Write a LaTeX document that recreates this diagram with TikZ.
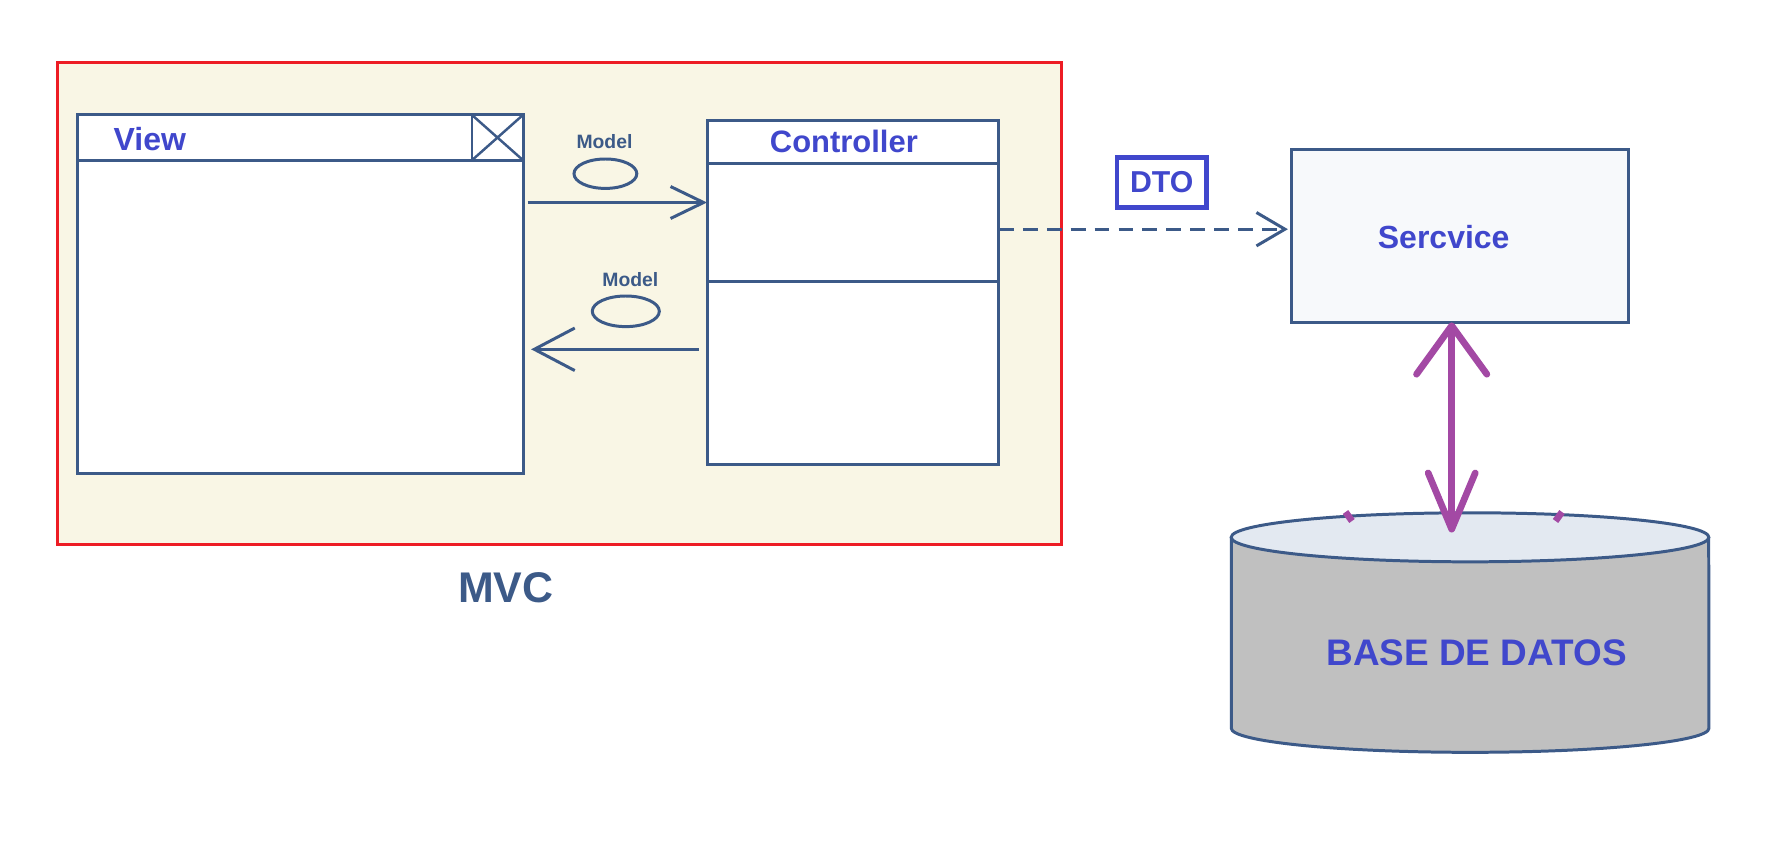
\documentclass[tikz,border=0pt]{standalone}
\usepackage{fontspec}
\setmainfont{Liberation Sans}
\usetikzlibrary{arrows.meta}
\definecolor{slate}{HTML}{3C5A88}
\definecolor{lblue}{HTML}{4047CC}
\definecolor{cream}{HTML}{F9F6E5}
\definecolor{mvcred}{HTML}{ED1C24}
\definecolor{purp}{HTML}{A349A4}
\definecolor{svcfill}{HTML}{F7F9FB}
\definecolor{dbtopc}{HTML}{E3E9F1}
\definecolor{dbbody}{HTML}{C0C0C0}
\begin{document}
\begin{tikzpicture}[x=0.01cm,y=-0.01cm,
  box/.style={draw=slate, line width=0.85pt, fill=white, inner sep=0, outer sep=0},
  sline/.style={draw=slate, line width=0.85pt},
  lbl/.style={text=lblue, inner sep=0, outer sep=0},
  mlbl/.style={text=slate, inner sep=0, outer sep=0, font=\fontsize{5.5}{6}\selectfont\bfseries},
  conn/.style={draw=slate, line width=0.85pt},
  purparrow/.style={draw=purp, line width=1.9pt, line cap=round,
    {Straight Barb[length=13.8pt,width=20pt,line cap=round,line join=round]}-{Straight Barb[length=16pt,width=13.4pt,line cap=round,line join=round]}}
]
\useasboundingbox (0,0) rectangle (1778,842);
\fill[white] (0,0) rectangle (1778,842);

% MVC frame
\node[draw=mvcred, line width=0.85pt, fill=cream, inner sep=0, outer sep=0,
      minimum width=10.03cm, minimum height=4.82cm] (mvc) at (559.4,303.2) {};
\node[text=slate, inner sep=0, font=\fontsize{12.2}{14}\selectfont\bfseries] (mvclbl) at (505.8,587.5) {MVC};

% View
\node[box, minimum width=4.454cm, minimum height=3.583cm] (view) at (300.2,294.15) {};
\draw[sline] (view.north west) ++(0,45.3) coordinate (vh) -- (vh -| view.east);
\coordinate (xb) at (472,115);
\draw[sline] (xb) -- (xb |- vh);
\draw[sline, line width=0.7pt] (xb) -- (vh -| view.east) (xb |- vh) -- (view.north east);
\node[lbl, font=\fontsize{9.1}{10}\selectfont\bfseries] (viewlbl) at (149.8,139.5) {View};

% Controller
\node[box, minimum width=2.918cm, minimum height=3.435cm] (ctrl) at (853,292.45) {};
\draw[sline] (ctrl.north west) ++(0,43.3) coordinate (ch) -- (ch -| ctrl.east);
\draw[sline] (ctrl.north west) ++(0,160.6) coordinate (cs) -- (cs -| ctrl.east);
\node[lbl, font=\fontsize{8.8}{10}\selectfont\bfseries] (ctrllbl) at (843.9,141) {Controller};

% Model messages
\node[mlbl] (m1) at (604.5,141.3) {Model};
\draw[sline] (605.4,173.7) ellipse [x radius=0.314cm, y radius=0.147cm];
\node[mlbl] (m2) at (630.4,280) {Model};
\draw[sline] (625.8,311.3) ellipse [x radius=0.335cm, y radius=0.153cm];

\coordinate (a1s) at (527.7,202.5);
\draw[conn, -{Straight Barb[length=9.4pt,width=9.1pt]}] (a1s) -- (a1s -| ctrl.west);
\coordinate (a2s) at (698.6,349.3);
\draw[conn, shorten >=2.3pt, -{Straight Barb[length=11.5pt,width=12.1pt]}] (a2s) -- (a2s -| view.east);

% Service
\node[draw=slate, line width=0.85pt, fill=svcfill, inner sep=0, outer sep=0,
      minimum width=3.365cm, minimum height=1.73cm] (svc) at (1459.75,235.8) {};
\node[lbl, font=\fontsize{9.1}{10}\selectfont\bfseries] (svclbl) at (1443.7,237.5) {Sercvice};

% DTO
\node[draw=lblue, line width=1.3pt, lbl, minimum width=0.895cm, minimum height=0.505cm,
      font=\fontsize{8.6}{10}\selectfont\bfseries] (dto) at (1161.7,182.5) {DTO};

% dashed dependency
\coordinate (ds) at (999,229.2);
\draw[conn, dash pattern=on 4.2pt off 2.6pt, shorten >=1pt, -{Straight Barb[length=8.1pt,width=9.5pt]}] (ctrl.east |- ds) -- (svc.west |- ds);

% Database cylinder
\fill[dbbody] (1231.3,537.3) -- (1231.3,728.3) arc[start angle=180,end angle=360,x radius=2.387cm,y radius=0.24cm] -- (1708.7,537.3) -- cycle;
\draw[sline] (1231.3,537.3) -- (1231.3,728.3) arc[start angle=180,end angle=360,x radius=2.387cm,y radius=0.24cm] -- (1708.7,537.3);
\filldraw[fill=dbtopc, draw=slate, line width=0.85pt] (1470,537.3) ellipse [x radius=2.387cm, y radius=0.245cm];
\draw[purp, line width=1.9pt] (1345.5,512) -- (1352,521) (1562,512) -- (1555.5,521);
\node[lbl, font=\fontsize{10.5}{12}\selectfont\bfseries] (db) at (1476.5,652.5) {BASE DE DATOS};
\coordinate (dbt) at (1451.7,532.5);

% purple double arrow
\draw[purparrow] (svc.south -| dbt) -- (dbt);
\end{tikzpicture}
\end{document}
